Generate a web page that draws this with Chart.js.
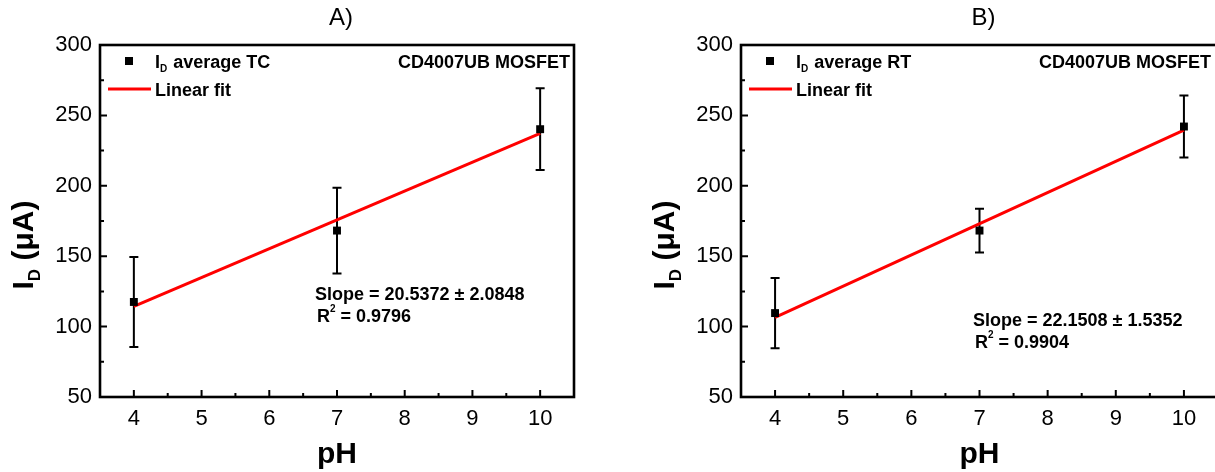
<!DOCTYPE html>
<html><head><meta charset="utf-8">
<script src="https://cdn.jsdelivr.net/npm/chart.js@4/dist/chart.umd.min.js"></script>
<style>
html,body{margin:0;padding:0;background:#fff;overflow:hidden;width:1215px;height:472px;position:relative;}
.wrap{position:absolute;top:0;height:472px;}
.wrap canvas{display:block;}
</style></head><body>
<div class="wrap" style="left:0;width:610px"><canvas id="ca"></canvas></div>
<div class="wrap" style="left:641px;width:700px"><canvas id="cb"></canvas></div>
<script>
// ---- data ----
const xTicks = [4, 5, 6, 7, 8, 9, 10];
const yTicks = [50, 100, 150, 200, 250, 300];
const pH = [4, 7, 10];
const idTC = [117.5, 168.2, 240.2];
const errTC = [32.0, 30.5, 29.0];
const idRT = [109.6, 168.2, 242.1];
const errRT = [25.0, 15.5, 22.0];
const fitX = [4, 10];
const fitTC = [114.3, 237.3];
const fitRT = [106.5, 239.5];
const titles = ['A)', 'B)'];
const legendLabels = ['average TC', 'average RT'];
const slopeTexts = ['Slope = 20.5372 \u00b1 2.0848', 'Slope = 22.1508 \u00b1 1.5352'];
const r2Texts = [' = 0.9796', ' = 0.9904'];

const FONT = '"Liberation Sans", Arial, sans-serif';

function mids(arr){ const m=[]; for(let i=0;i<arr.length-1;i++) m.push((arr[i]+arr[i+1])/2); return m; }

function makePanel(canvasId, idx, ys, errs, fitY, rightPad, slopePos){
  const plugin = {
    id: 'deco' + idx,
    beforeDatasetsDraw(chart){
      const ctx = chart.ctx, xs = chart.scales.x, yS = chart.scales.y;
      ctx.save();
      ctx.strokeStyle = '#000'; ctx.lineWidth = 2;
      pH.forEach((p, i) => {
        const x = xs.getPixelForValue(p);
        const yt = yS.getPixelForValue(ys[i] + errs[i]);
        const yb = yS.getPixelForValue(ys[i] - errs[i]);
        ctx.beginPath();
        ctx.moveTo(x, yt); ctx.lineTo(x, yb);
        ctx.moveTo(x - 4.5, yt); ctx.lineTo(x + 4.5, yt);
        ctx.moveTo(x - 4.5, yb); ctx.lineTo(x + 4.5, yb);
        ctx.stroke();
      });
      ctx.restore();
    },
    afterDraw(chart){
      const ctx = chart.ctx, a = chart.chartArea, xs = chart.scales.x, yS = chart.scales.y;
      ctx.save();
      // frame
      ctx.strokeStyle = '#000'; ctx.lineWidth = 2.6;
      ctx.strokeRect(a.left, a.top, a.right - a.left, a.bottom - a.top);
      // inward ticks
      ctx.lineWidth = 2;
      ctx.beginPath();
      xTicks.forEach(v => { const x = xs.getPixelForValue(v); ctx.moveTo(x, a.bottom); ctx.lineTo(x, a.bottom - 7); });
      mids(xTicks).forEach(v => { const x = xs.getPixelForValue(v); ctx.moveTo(x, a.bottom); ctx.lineTo(x, a.bottom - 4); });
      yTicks.slice(1, -1).forEach(v => { const y = yS.getPixelForValue(v); ctx.moveTo(a.left, y); ctx.lineTo(a.left + 7, y); });
      mids(yTicks).forEach(v => { const y = yS.getPixelForValue(v); ctx.moveTo(a.left, y); ctx.lineTo(a.left + 4, y); });
      ctx.stroke();

      ctx.fillStyle = '#000';
      // title
      ctx.font = '24px ' + FONT; ctx.textAlign = 'center'; ctx.textBaseline = 'middle';
      ctx.fillText(titles[idx], (a.left + a.right) / 2 + 4, 18);
      // x title
      ctx.font = 'bold 30px ' + FONT;
      ctx.fillText('pH', (a.left + a.right) / 2, 455);
      // y title (rotated)
      ctx.save();
      ctx.translate(a.left - 78, 245);
      ctx.rotate(-Math.PI / 2);
      ctx.textAlign = 'left'; ctx.textBaseline = 'alphabetic';
      ctx.font = 'bold 30px ' + FONT;
      const w1 = ctx.measureText('I').width;
      ctx.font = 'bold 17px ' + FONT;
      const w2 = ctx.measureText('D').width;
      ctx.font = 'bold 30px ' + FONT;
      const w3 = ctx.measureText(' (\u03bcA)').width;
      let tx = -(w1 + w2 + w3) / 2;
      const base = 11;
      ctx.fillText('I', tx, base); tx += w1;
      ctx.font = 'bold 17px ' + FONT; ctx.fillText('D', tx, base + 7); tx += w2;
      ctx.font = 'bold 30px ' + FONT; ctx.fillText(' (\u03bcA)', tx, base);
      ctx.restore();

      // legend
      ctx.textAlign = 'left'; ctx.textBaseline = 'alphabetic';
      ctx.fillRect(a.left + 25, a.top + 12, 8, 8);
      let lx = a.left + 55;
      const ly = a.top + 22.5;
      ctx.font = 'bold 18px ' + FONT;
      ctx.fillText('I', lx, ly); lx += ctx.measureText('I').width;
      ctx.font = 'bold 10px ' + FONT;
      ctx.fillText('D', lx, ly + 4); lx += ctx.measureText('D').width + 1;
      ctx.font = 'bold 18px ' + FONT;
      ctx.fillText(' ' + legendLabels[idx], lx, ly);
      ctx.strokeStyle = '#ff0000'; ctx.lineWidth = 3;
      ctx.beginPath(); ctx.moveTo(a.left + 8, a.top + 44); ctx.lineTo(a.left + 51, a.top + 44); ctx.stroke();
      ctx.fillText('Linear fit', a.left + 55, a.top + 50.5);
      ctx.textAlign = 'right';
      ctx.fillText('CD4007UB MOSFET', a.left + 470, ly);

      // fit stats
      ctx.textAlign = 'left';
      const sx = a.left + slopePos[0], sy = slopePos[1];
      ctx.fillText(slopeTexts[idx], sx, sy + 6.5);
      let rx = sx + 2;
      ctx.fillText('R', rx, sy + 28.5); rx += ctx.measureText('R').width;
      ctx.font = 'bold 10px ' + FONT;
      ctx.fillText('2', rx, sy + 19); rx += ctx.measureText('2').width;
      ctx.font = 'bold 18px ' + FONT;
      ctx.fillText(r2Texts[idx], rx, sy + 28.5);
      ctx.restore();
    }
  };

  return new Chart(document.getElementById(canvasId), {
    type: 'scatter',
    data: {
      datasets: [
        {
          label: 'ID ' + legendLabels[idx],
          data: pH.map((p, i) => ({x: p, y: ys[i]})),
          pointStyle: 'rect', pointRadius: 5.6, pointBorderWidth: 0,
          backgroundColor: '#000', borderColor: '#000', showLine: false
        },
        {
          label: 'Linear fit',
          type: 'line',
          data: fitX.map((p, i) => ({x: p, y: fitY[i]})),
          borderColor: '#ff0000', borderWidth: 3, pointRadius: 0, fill: false
        }
      ]
    },
    options: {
      responsive: true, maintainAspectRatio: false, animation: false,
      layout: {padding: {top: 45, right: rightPad, left: 0, bottom: 0}},
      plugins: {legend: {display: false}, title: {display: false}, tooltip: {enabled: false}},
      scales: {
        x: {
          type: 'linear', min: 3.5, max: 10.5,
          afterBuildTicks: s => { s.ticks = xTicks.map(v => ({value: v})); },
          afterFit: s => { s.height = 75; },
          grid: {display: false, drawTicks: false}, border: {display: false},
          ticks: {color: '#000', font: {family: FONT, size: 22}, padding: 9, maxRotation: 0}
        },
        y: {
          type: 'linear', min: 50, max: 300,
          afterBuildTicks: s => { s.ticks = yTicks.map(v => ({value: v})); },
          afterFit: s => { s.width = 100; },
          grid: {display: false, drawTicks: false}, border: {display: false},
          ticks: {color: '#000', font: {family: FONT, size: 22}, padding: 8}
        }
      }
    },
    plugins: [plugin]
  });
}

makePanel('ca', 0, idTC, errTC, fitTC, 36, [215, 293]);
makePanel('cb', 1, idRT, errRT, fitRT, 123, [232, 319]);
</script>
</body></html>
